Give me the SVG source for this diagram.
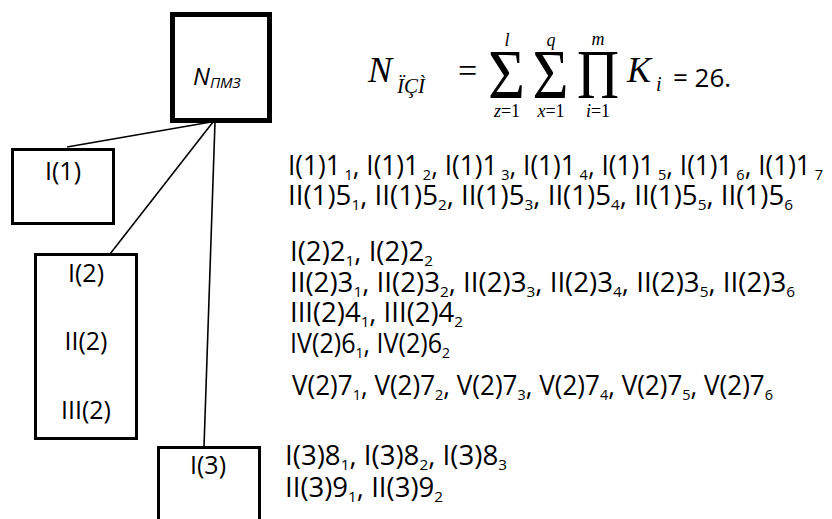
<svg xmlns="http://www.w3.org/2000/svg" width="832" height="519" viewBox="0 0 832 519">
<style>
.bg{fill:#fff}
.box{fill:#fff;stroke:#000;stroke-width:3}
.boxb{fill:#fff;stroke:#000;stroke-width:5}
.ln{stroke:#000;stroke-width:1.6;fill:none}
.lbl{font-family:"Open Sans","DejaVu Sans",sans-serif;font-size:25px;text-anchor:middle;fill:#000}
.t{font-family:"Open Sans","DejaVu Sans",sans-serif;font-size:27px;fill:#000}
.s{font-size:15px}
.mi{font-family:"Liberation Serif","Times New Roman",serif;font-style:italic;fill:#000}
.mr{font-family:"Liberation Serif","Times New Roman",serif;font-style:normal;fill:#000}
.op{font-family:"Liberation Serif","Times New Roman",serif;font-size:70px;text-anchor:middle;fill:#000}
.lim{font-size:18px;text-anchor:middle}
</style>
<rect class="bg" x="0" y="0" width="832" height="519"/>
<g id="connectors">
<line class="ln" x1="211" y1="122" x2="67" y2="147"/>
<line class="ln" x1="213" y1="122" x2="110" y2="254"/>
<line class="ln" x1="215" y1="122" x2="204" y2="447"/>
</g>
<g id="node-npmz">
<rect class="boxb" x="172.5" y="14.5" width="97" height="106"/>
<text x="193" y="85" font-family="Open Sans, DejaVu Sans, sans-serif" font-style="italic" font-size="24" fill="#000">N<tspan font-size="15" baseline-shift="-3">ПМЗ</tspan></text>
</g>
<g id="node-i1">
<rect class="box" x="12.5" y="149.5" width="101" height="74"/>
<text class="lbl" x="63" y="180">I(1)</text>
</g>
<g id="node-i2">
<rect class="box" x="35.5" y="254.5" width="101" height="184"/>
<text class="lbl" x="86" y="282">I(2)</text>
<text class="lbl" x="86" y="350">II(2)</text>
<text class="lbl" x="86" y="419">III(2)</text>
</g>
<g id="node-i3">
<rect class="box" x="158.5" y="447.5" width="101" height="80"/>
<text class="lbl" x="208" y="474">I(3)</text>
</g>
<g id="formula">
<text class="mi" x="368" y="82" font-size="36">N</text>
<text class="mi" x="397" y="93" font-size="21">ÏÇÌ</text>
<text class="mr" x="458" y="82" font-size="34">=</text>
<text class="op" x="506.5" y="98" textLength="37" lengthAdjust="spacingAndGlyphs">Σ</text>
<text class="op" x="550.5" y="98" textLength="36" lengthAdjust="spacingAndGlyphs">Σ</text>
<text class="op" x="598" y="98" textLength="42" lengthAdjust="spacingAndGlyphs">Π</text>
<text class="mi lim" x="507" y="46">l</text>
<text class="mi lim" x="551" y="46">q</text>
<text class="mi lim" x="598" y="45">m</text>
<text class="mi lim" x="507" y="117">z<tspan class="mr">=1</tspan></text>
<text class="mi lim" x="551" y="117">x<tspan class="mr">=1</tspan></text>
<text class="mi lim" x="598" y="117">i<tspan class="mr">=1</tspan></text>
<text class="mi" x="627" y="82" font-size="36">K</text>
<text class="mi" x="656" y="91" font-size="20">i</text>
<text x="673" y="87" font-family="Open Sans, DejaVu Sans, sans-serif" font-size="26" fill="#000">= 26.</text>
</g>
<g id="lists">
<text class="t" x="288" y="175" textLength="535" lengthAdjust="spacingAndGlyphs">I(1)1<tspan class="s" dx="4" baseline-shift="-5">1</tspan>, I(1)1<tspan class="s" dx="4" baseline-shift="-5">2</tspan>, I(1)1<tspan class="s" dx="4" baseline-shift="-5">3</tspan>, I(1)1<tspan class="s" dx="4" baseline-shift="-5">4</tspan>, I(1)1<tspan class="s" dx="4" baseline-shift="-5">5</tspan>, I(1)1<tspan class="s" dx="4" baseline-shift="-5">6</tspan>, I(1)1<tspan class="s" dx="4" baseline-shift="-5">7</tspan></text>
<text class="t" x="288" y="205" textLength="505" lengthAdjust="spacingAndGlyphs">II(1)5<tspan class="s" baseline-shift="-5">1</tspan>, II(1)5<tspan class="s" baseline-shift="-5">2</tspan>, II(1)5<tspan class="s" baseline-shift="-5">3</tspan>, II(1)5<tspan class="s" baseline-shift="-5">4</tspan>, II(1)5<tspan class="s" baseline-shift="-5">5</tspan>, II(1)5<tspan class="s" baseline-shift="-5">6</tspan></text>
<text class="t" x="290" y="261" textLength="143" lengthAdjust="spacingAndGlyphs">I(2)2<tspan class="s" baseline-shift="-5">1</tspan>, I(2)2<tspan class="s" baseline-shift="-5">2</tspan></text>
<text class="t" x="290" y="292" textLength="505" lengthAdjust="spacingAndGlyphs">II(2)3<tspan class="s" baseline-shift="-5">1</tspan>, II(2)3<tspan class="s" baseline-shift="-5">2</tspan>, II(2)3<tspan class="s" baseline-shift="-5">3</tspan>, II(2)3<tspan class="s" baseline-shift="-5">4</tspan>, II(2)3<tspan class="s" baseline-shift="-5">5</tspan>, II(2)3<tspan class="s" baseline-shift="-5">6</tspan></text>
<text class="t" x="290" y="322" textLength="173" lengthAdjust="spacingAndGlyphs">III(2)4<tspan class="s" baseline-shift="-5">1</tspan>, III(2)4<tspan class="s" baseline-shift="-5">2</tspan></text>
<text class="t" x="290" y="353" textLength="160" lengthAdjust="spacingAndGlyphs">IV(2)6<tspan class="s" baseline-shift="-5">1</tspan>, IV(2)6<tspan class="s" baseline-shift="-5">2</tspan></text>
<text class="t" x="292" y="395" textLength="481" lengthAdjust="spacingAndGlyphs">V(2)7<tspan class="s" baseline-shift="-5">1</tspan>,  V(2)7<tspan class="s" baseline-shift="-5">2</tspan>, V(2)7<tspan class="s" baseline-shift="-5">3</tspan>, V(2)7<tspan class="s" baseline-shift="-5">4</tspan>, V(2)7<tspan class="s" baseline-shift="-5">5</tspan>, V(2)7<tspan class="s" baseline-shift="-5">6</tspan></text>
<text class="t" x="285" y="465" textLength="222" lengthAdjust="spacingAndGlyphs">I(3)8<tspan class="s" baseline-shift="-5">1</tspan>, I(3)8<tspan class="s" baseline-shift="-5">2</tspan>, I(3)8<tspan class="s" baseline-shift="-5">3</tspan></text>
<text class="t" x="285" y="497" textLength="158" lengthAdjust="spacingAndGlyphs">II(3)9<tspan class="s" baseline-shift="-5">1</tspan>, II(3)9<tspan class="s" baseline-shift="-5">2</tspan></text>
</g>
</svg>
